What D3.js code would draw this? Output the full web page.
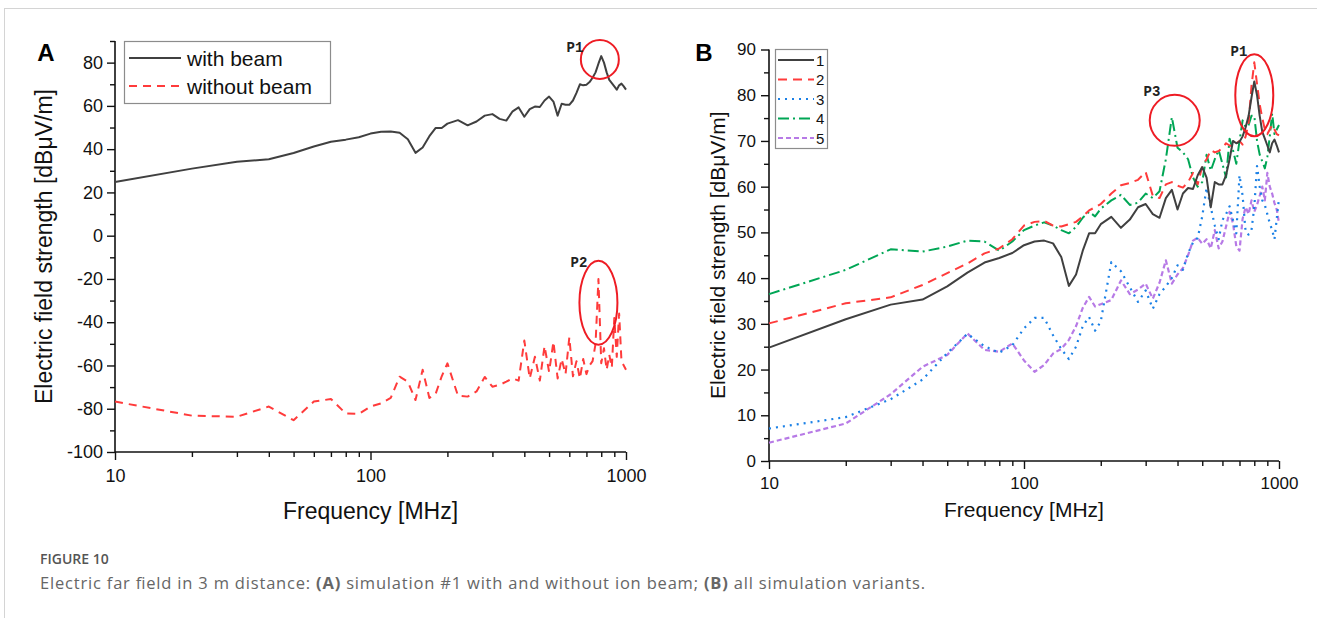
<!DOCTYPE html>
<html>
<head>
<meta charset="utf-8">
<script src="https://cdn.jsdelivr.net/npm/d3@7"></script>
<style>
  body { margin: 0; background: #fff; }
  svg { display: block; }
</style>
</head>
<body>
<div id="chart"></div>
<script>
// frequency grid [MHz], shared by every series
const freqs = [10, 20, 30, 40, 50, 60, 70, 80, 90, 100,
    110, 120, 130, 140, 150, 160, 170, 180, 190, 200,
    220, 240, 260, 280, 300, 320, 340, 360, 380, 400,
    420, 440, 460, 480, 500, 520, 540, 560, 580, 600,
    620, 640, 660, 680, 700, 720, 740, 760, 780, 800,
    820, 840, 860, 880, 900, 920, 940, 960, 980, 1000];

// simulation #1 (with beam) - panel A black and panel B "1"
const sim1 = [24.8, 31.0, 34.2, 35.3, 38.2, 41.2, 43.4, 44.4, 45.5, 47.2,
    48.0, 48.2, 47.6, 44.6, 38.3, 40.8, 46.0, 49.8, 49.8, 51.8,
    53.4, 51.0, 52.8, 55.5, 56.2, 54.0, 53.2, 57.5, 59.3, 55.0,
    58.5, 59.7, 59.5, 62.5, 64.3, 62.0, 55.5, 61.0, 60.5, 60.5,
    62.5, 66.0, 70.0, 69.5, 69.8, 71.0, 73.0, 75.5, 79.5, 83.0,
    80.0, 75.5, 72.0, 70.5, 69.0, 67.5, 69.5, 70.3, 69.0, 67.5];

// simulation #1 without beam - panel A red
const noBeam = [-76.7, -83.2, -83.7, -79, -85.3, -76.7, -75.5, -82.2, -82.4, -79,
    -77.5, -75, -65.2, -67.5, -76, -62, -75, -73, -65, -59,
    -74, -74.4, -72, -65.3, -69.8, -69, -67.5, -66, -67, -48.5,
    -66, -56, -67, -51, -63, -49, -66, -57, -64, -47,
    -65, -58, -66, -57, -64, -60, -58, -50, -20, -59,
    -52, -62, -55, -61, -38, -56, -36, -58, -60, -62];

const sim2 = [30.1, 34.5, 35.8, 38.5, 41.1, 43.2, 45.4, 46.5, 48.5, 51.5,
    52.3, 52.5, 51.5, 51.3, 51.8, 52.3, 53.5, 54.8, 55.5, 56.2,
    58.5, 60.3, 60.8, 61.5, 63.2, 58.0, 57.5, 60.5, 61.0, 60.2,
    59.8, 61.0, 63.0, 60.5, 64.5, 66.0, 68.0, 67.5, 67.8, 68.5,
    69.5, 69.0, 68.8, 69.5, 70.0, 69.2, 71.0, 74.0, 82.0, 87.2,
    82.5, 78.0, 75.0, 72.5, 71.5, 72.5, 73.5, 72.5, 71.5, 71.2];

const sim3 = [7.1, 9.6, 13.5, 17.8, 23.6, 27.8, 25.1, 23.7, 25.3, 29.0,
    31.3, 31.3, 27.5, 24.5, 22.3, 25.0, 29.5, 31.5, 28.5, 30.5,
    43.5, 41.5, 38.0, 34.8, 37.3, 33.3, 36.5, 38.2, 40.0, 42.8,
    41.8, 45.4, 47.8, 48.8, 53.5, 59.8, 55.5, 51.5, 48.5, 52.7,
    54.0, 55.7, 52.7, 49.8, 62.5, 58.0, 50.0, 49.5, 50.5, 55.5,
    64.5, 60.0, 57.0, 56.0, 54.0, 52.0, 50.5, 48.5, 53.0, 57.5];

const sim4 = [36.5, 41.8, 46.3, 45.8, 46.9, 48.2, 48.0, 46.0, 48.0, 50.5,
    51.5, 52.2, 51.5, 50.5, 49.8, 51.2, 53.2, 54.5, 53.5, 55.2,
    57.0, 58.2, 56.0, 56.5, 58.5, 57.5, 59.0, 66.0, 75.2, 68.5,
    67.5, 66.0, 62.0, 60.0, 61.0, 67.0, 63.5, 66.0, 68.0, 65.0,
    62.0, 70.5, 68.0, 65.0, 70.0, 74.5, 73.0, 73.5, 75.5, 75.5,
    70.0, 67.0, 65.5, 64.0, 66.5, 71.0, 76.0, 71.5, 72.5, 73.5];

const sim5 = [4.0, 8.2, 14.6, 20.6, 23.2, 27.9, 24.3, 23.9, 25.7, 22.0,
    19.5, 21.0, 23.5, 24.5, 26.5, 29.5, 33.5, 35.9, 33.8, 34.3,
    35.2, 39.5, 36.5, 37.5, 38.8, 35.5, 39.0, 43.9, 38.8, 40.8,
    42.2, 45.0, 48.2, 48.8, 47.5, 48.5, 46.5, 50.5, 46.5, 48.0,
    51.3, 54.5, 52.0, 47.0, 46.0, 53.0, 55.5, 54.0, 57.0, 54.5,
    56.0, 58.0, 60.0, 57.0, 63.0, 60.0, 58.5, 56.4, 55.0, 52.0];

const xMajor = [10, 100, 1000];
const xMinor = [20, 30, 40, 50, 60, 70, 80, 90, 200, 300, 400, 500, 600, 700, 800, 900];
const yMajorA = [-100, -80, -60, -40, -20, 0, 20, 40, 60, 80];
const yMinorA = [-90, -70, -50, -30, -10, 10, 30, 50, 70, 90];
const yMajorB = [0, 10, 20, 30, 40, 50, 60, 70, 80, 90];
const yMinorB = [5, 15, 25, 35, 45, 55, 65, 75, 85];

const font = "'Liberation Sans', Arial, sans-serif";
const W = 1317, H = 618;

const svg = d3.select("#chart").append("svg")
    .attr("width", W)
    .attr("height", H);

// page frame
svg.append("rect")
    .attr("x", 4.5).attr("y", 8.5)
    .attr("width", W).attr("height", H)
    .attr("fill", "none")
    .attr("stroke", "#d4d4d4");

const styles = {
    beam:  { color: "#404040", dash: null,        width: 2 },
    nobeam:{ color: "#ff3b3b", dash: "8,6",       width: 2 },
    s1:    { color: "#404040", dash: null,        width: 2 },
    s2:    { color: "#ff3b3b", dash: "9,6",       width: 2 },
    s3:    { color: "#1a80e6", dash: "2,5",       width: 2.2 },
    s4:    { color: "#00a655", dash: "11,4,2,4",  width: 2 },
    s5:    { color: "#b77ae6", dash: "5,3",       width: 2.2 }
};

const plain = d => String(d);

function drawAxes(g, x, y, yMajor, yMinor, opt) {
    const bottom = y.range()[0];
    const left = x.range()[0];

    g.append("g")
        .attr("transform", `translate(0,${bottom})`)
        .call(d3.axisBottom(x).tickValues(xMinor).tickSize(5).tickFormat(""))
        .call(a => a.select(".domain").remove());
    g.append("g")
        .attr("transform", `translate(0,${bottom})`)
        .call(d3.axisBottom(x).tickValues(xMajor).tickSize(8).tickPadding(opt.xPad).tickFormat(plain))
        .call(a => a.select(".domain").attr("d", `M${x.range()[0]},0H${x.range()[1]}`));

    g.append("g")
        .attr("transform", `translate(${left},0)`)
        .call(d3.axisLeft(y).tickValues(yMinor).tickSize(5).tickFormat(""))
        .call(a => a.select(".domain").remove());
    g.append("g")
        .attr("transform", `translate(${left},0)`)
        .call(d3.axisLeft(y).tickValues(yMajor).tickSize(8).tickPadding(opt.yPad).tickFormat(plain))
        .call(a => a.select(".domain").attr("d", `M0,${y.range()[0]}V${y.range()[1]}`));

    g.selectAll(".tick text")
        .attr("font-family", font)
        .attr("font-size", opt.tickFont)
        .attr("fill", "#111");
    g.selectAll(".domain").attr("stroke", "#111").attr("stroke-width", 1.6);
    g.selectAll(".tick line").attr("stroke", "#111").attr("stroke-width", 1.4);

    // axis titles
    g.append("text")
        .attr("x", (x.range()[0] + x.range()[1]) / 2)
        .attr("y", opt.xTitleY)
        .attr("text-anchor", "middle")
        .attr("font-family", font)
        .attr("font-size", opt.titleFont)
        .attr("fill", "#111")
        .text("Frequency [MHz]");
    g.append("text")
        .attr("transform", `translate(${opt.yTitleX},${(y.range()[0] + y.range()[1]) / 2}) rotate(-90)`)
        .attr("text-anchor", "middle")
        .attr("dominant-baseline", "central")
        .attr("font-family", font)
        .attr("font-size", opt.titleFont)
        .attr("fill", "#111")
        .text("Electric field strength [dBμV/m]");
}

function drawSeries(g, x, y, values, st) {
    const line = d3.line()
        .x((d, i) => x(freqs[i]))
        .y(d => y(d));
    g.append("path")
        .datum(values)
        .attr("d", line)
        .attr("fill", "none")
        .attr("stroke", st.color)
        .attr("stroke-width", st.width)
        .attr("stroke-linejoin", "round")
        .attr("stroke-dasharray", st.dash);
}

function drawMarker(g, cx, cy, rx, ry, label, lx, ly) {
    g.append("ellipse")
        .attr("cx", cx).attr("cy", cy)
        .attr("rx", rx).attr("ry", ry)
        .attr("fill", "none")
        .attr("stroke", "#ee1c24")
        .attr("stroke-width", 2);
    g.append("text")
        .attr("x", lx).attr("y", ly)
        .attr("text-anchor", "middle")
        .attr("dominant-baseline", "central")
        .attr("font-family", "'Liberation Mono', 'Courier New', monospace")
        .attr("font-weight", "bold")
        .attr("font-size", 14)
        .attr("fill", "#222")
        .text(label);
}

function drawLegend(g, bx, by, bw, bh, items, opt) {
    g.append("rect")
        .attr("x", bx).attr("y", by)
        .attr("width", bw).attr("height", bh)
        .attr("fill", "#fff")
        .attr("stroke", "#8c8c8c")
        .attr("stroke-width", 1.2);
    items.forEach((it, i) => {
        const yy = opt.y0 + i * opt.step;
        g.append("line")
            .attr("x1", opt.x1).attr("x2", opt.x2)
            .attr("y1", yy).attr("y2", yy)
            .attr("stroke", it.st.color)
            .attr("stroke-width", it.st.width)
            .attr("stroke-dasharray", it.st.dash);
        g.append("text")
            .attr("x", opt.tx).attr("y", yy)
            .attr("dominant-baseline", "central")
            .attr("font-family", font)
            .attr("font-size", opt.font)
            .attr("fill", "#111")
            .text(it.label);
    });
}

// ---------- Panel A ----------
const xA = d3.scaleLog().domain([10, 1000]).range([115, 626]);
const yA = d3.scaleLinear().domain([-100, 90]).range([452, 41]);
const gA = svg.append("g");

drawAxes(gA, xA, yA, yMajorA, yMinorA, {
    tickFont: 18, xPad: 9, yPad: 4, titleFont: 23, xTitleY: 519, yTitleX: 44
});
drawSeries(gA, xA, yA, sim1, styles.beam);
drawSeries(gA, xA, yA, noBeam, styles.nobeam);
drawMarker(gA, xA(790), yA(81.5), 19, 19.5, "P1", 575, 48);
drawMarker(gA, xA(780), yA(-31), 19, 42, "P2", 579, 263);
drawLegend(gA, 124.5, 41.5, 206, 62, [
    { label: "with beam", st: styles.beam },
    { label: "without beam", st: styles.nobeam }
], { x1: 129, x2: 181, tx: 187, y0: 58, step: 28, font: 21 });

svg.append("text")
    .attr("x", 46).attr("y", 52)
    .attr("text-anchor", "middle")
    .attr("dominant-baseline", "central")
    .attr("font-family", font)
    .attr("font-weight", "bold")
    .attr("font-size", 24)
    .text("A");

// ---------- Panel B ----------
const xB = d3.scaleLog().domain([10, 1000]).range([769, 1279]);
const yB = d3.scaleLinear().domain([0, 90]).range([461, 49.5]);
const gB = svg.append("g");

drawAxes(gB, xB, yB, yMajorB, yMinorB, {
    tickFont: 17, xPad: 8, yPad: 5, titleFont: 21, xTitleY: 517, yTitleX: 717
});
drawSeries(gB, xB, yB, sim5, styles.s5);
drawSeries(gB, xB, yB, sim3, styles.s3);
drawSeries(gB, xB, yB, sim4, styles.s4);
drawSeries(gB, xB, yB, sim2, styles.s2);
drawSeries(gB, xB, yB, sim1, styles.s1);
drawMarker(gB, xB(800), yB(80), 19, 41, "P1", 1239, 52);
drawMarker(gB, xB(390), yB(74.5), 25, 25.5, "P3", 1152, 92);
drawLegend(gB, 775.5, 49.5, 52, 99, [
    { label: "1", st: styles.s1 },
    { label: "2", st: styles.s2 },
    { label: "3", st: styles.s3 },
    { label: "4", st: styles.s4 },
    { label: "5", st: styles.s5 }
], { x1: 778, x2: 814, tx: 816, y0: 60, step: 19.5, font: 15 });

svg.append("text")
    .attr("x", 704).attr("y", 52)
    .attr("text-anchor", "middle")
    .attr("dominant-baseline", "central")
    .attr("font-family", font)
    .attr("font-weight", "bold")
    .attr("font-size", 24)
    .text("B");

// ---------- caption ----------
svg.append("text")
    .attr("x", 40).attr("y", 564)
    .attr("font-family", "'Open Sans', 'Noto Sans', sans-serif")
    .attr("font-weight", "600")
    .attr("font-size", 14)
    .attr("fill", "#555")
    .text("FIGURE 10");

const cap = svg.append("text")
    .attr("x", 40).attr("y", 589)
    .attr("font-family", "'Open Sans', 'Noto Sans', sans-serif")
    .attr("font-size", 16.5)
    .attr("fill", "#666")
    .attr("textLength", 885)
    .attr("lengthAdjust", "spacing");
cap.append("tspan").text("Electric far field in 3 m distance: ");
cap.append("tspan").attr("font-weight", "bold").text("(A)");
cap.append("tspan").text(" simulation #1 with and without ion beam; ");
cap.append("tspan").attr("font-weight", "bold").text("(B)");
cap.append("tspan").text(" all simulation variants.");
</script>
</body>
</html>
